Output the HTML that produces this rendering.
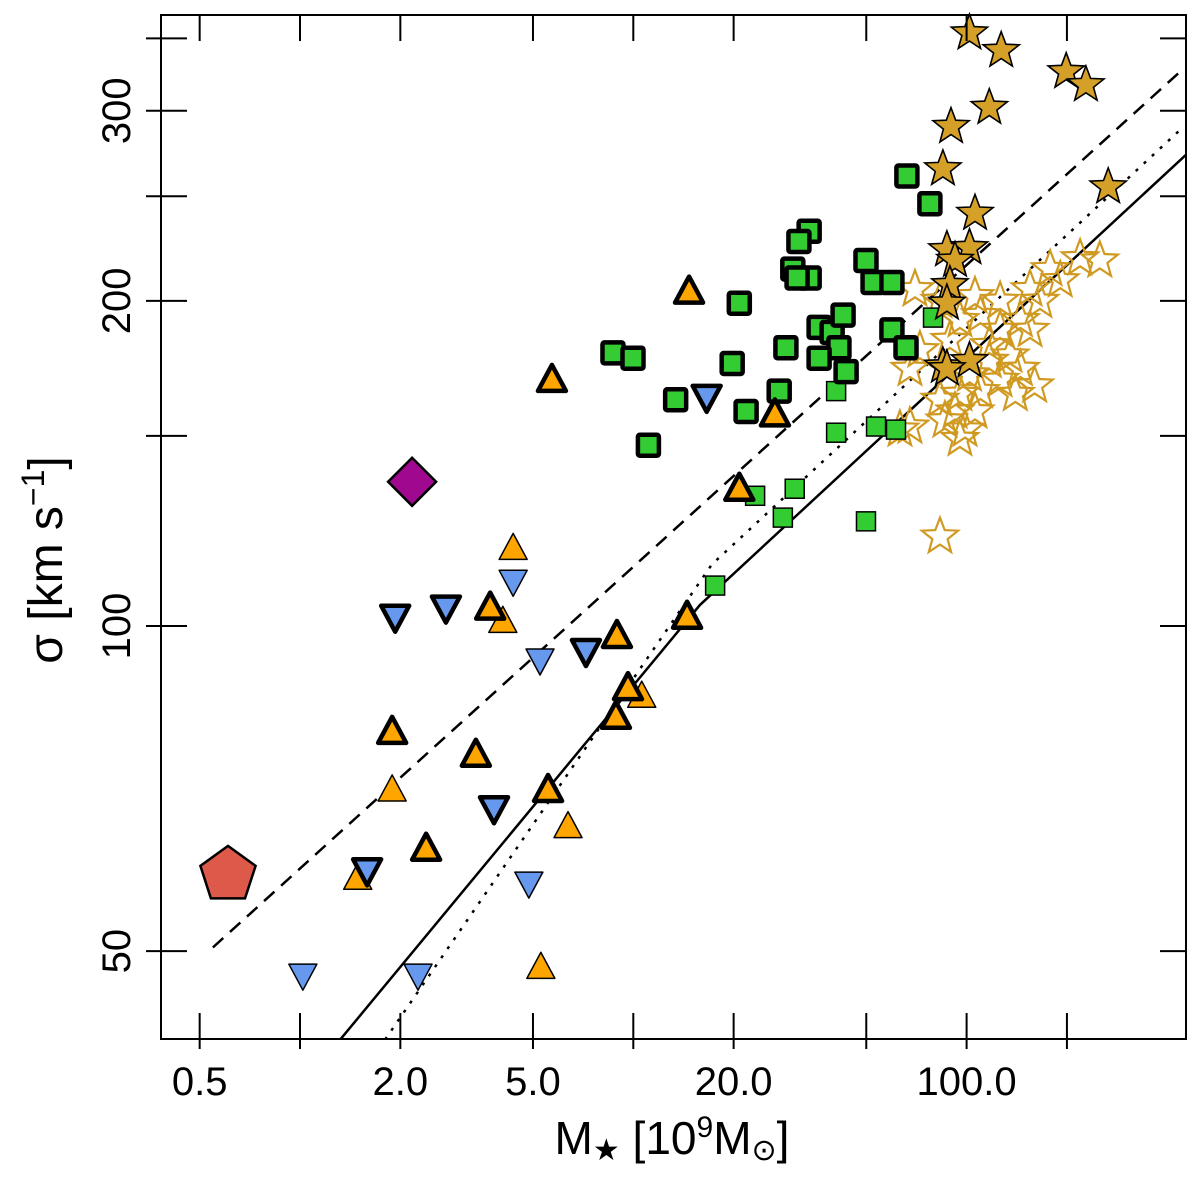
<!DOCTYPE html>
<html><head><meta charset="utf-8"><style>
body{margin:0;background:#fff;}
svg{display:block;font-family:"Liberation Sans","DejaVu Sans",sans-serif;}
</style></head><body>
<svg id="chart" width="1200" height="1186" viewBox="0 0 1200 1186" xmlns="http://www.w3.org/2000/svg">
<g id="lines"></g>
<g id="marks"></g>
<g id="axes"></g>
</svg>
<script>
// ---- data (stellar mass in 1e9 Msun, sigma in km/s) ----
const xTicks=[0.5,1,2,5,10,20,50,100,200];
const xTickLabels=["0.5","","2.0","5.0","","20.0","","100.0",""];
const yTicks=[50,100,150,200,250,300,350];
const yTickLabels=["50","100","","200","","300",""];

const greenBoldX=[66.2,77.6,33.7,31.4,30.1,33.7,31.0,49.9,52.4,59.7,20.8,8.69,9.98,19.8,28.7,36.1,39.5,42.6,41.4,36.1,43.5,59.7,65.8,13.4,21.8,27.4,11.1];
const greenBoldY=[261,246,232,227,214,210,210,218,208,208,199,179,177,175,181,189,187,194,181,177,172,188,181,162,158,165,147];
const greenThinX=[40.6,40.6,53.5,61.4,79.3,23.2,30.5,28.1,17.6,49.9];
const greenThinY=[165,151,153,152,193,132,134,126,109,125];
const starFillX=[102,127,199,228,117,89.8,84.9,266,106,87.3,102,92.3,89.1,87.3,84.9,102,87.3];
const starFillY=[354,341,326,317,302,290,265,255,241,223,224,218,207,199,174,176,173];
const starOpenX=[70.0,83.2,106,126,155,178,219,166,145,126,110,95.5,89.1,117,135,155,102,95.5,83.2,92.3,98.9,95.5,110,126,140,160,67.6,72.4,63.1,67.6,83.2,145,117,191,251,86.1,106];
const starOpenY=[205,200,202,200,205,214,219,200,192,188,194,192,184,182,178,188,171,164,162,158,152,149,165,169,164,167,173,180,152,153,121,173,176,209,218,155,158];
const triUpBoldX=[14.7,5.70,26.6,20.8,3.72,8.93,14.5,9.64,8.87,1.89,3.37,5.55,2.39];
const triUpBoldY=[204,169,157,134,104,97.9,102,87.6,82.4,79.8,76.0,70.5,62.2];
const triUpThinX=[4.36,4.06,10.6,1.89,6.37,1.49,5.28];
const triUpThinY=[118,101,86.1,70.5,65.2,58.4,48.3];
const triDownBoldX=[16.6,1.93,2.74,7.21,3.82,1.59];
const triDownBoldY=[163,102,104,94.8,67.8,59.4];
const triDownThinX=[4.36,5.25,4.86,1.02,2.26];
const triDownThinY=[110,93.0,57.8,47.5,47.5];
const diamondX=[2.17], diamondY=[136];
const pentagonX=[0.608], pentagonY=[59.2];
const dashedX=[0.548,437], dashedY=[50.4,326];
const solidX=[1.32,15.85,455], solidY=[41.4,104.6,273];
const dottedX=[1.80,17.2,437], dottedY=[41.4,114,288];

// ---- axis functions ----
const L=161,R=1186,T=15,B=1039;
function sx(v){return 300+333.3*Math.log10(v);}
function sy(v){return 626-1080*(Math.log10(v)-2);}
const NS="http://www.w3.org/2000/svg";
function mk(tag,attrs,parent){const e=document.createElementNS(NS,tag);for(const k in attrs)e.setAttribute(k,attrs[k]);parent.appendChild(e);return e;}
const lines=document.getElementById('lines'),marks=document.getElementById('marks'),axes=document.getElementById('axes');

const defs=mk('defs',{},document.getElementById('chart'));
const cp=mk('clipPath',{id:'clip'},defs);mk('rect',{x:L,y:T,width:R-L,height:B-T},cp);
lines.setAttribute('clip-path','url(#clip)');

function polyline(xs,ys,dash,name){
  const pts=xs.map((x,i)=>sx(x).toFixed(1)+','+sy(ys[i]).toFixed(1)).join(' ');
  const e=mk('polyline',{points:pts,fill:'none',stroke:'#000','stroke-width':2.5,'stroke-dasharray':dash},lines);
  
  
}
polyline(dashedX,dashedY,'14 9','dashed-fit-line');
polyline(solidX,solidY,'none','solid-fit-line');
polyline(dottedX,dottedY,'3 8','dotted-fit-line');

function starPts(cx,cy,r){let p=[];for(let i=0;i<10;i++){const a=-Math.PI/2+i*Math.PI/5;const rr=i%2?r*0.42:r;p.push((cx+rr*Math.cos(a)).toFixed(1)+','+(cy+rr*Math.sin(a)).toFixed(1));}return p.join(' ');}
function regPts(cx,cy,r,n,rot){let p=[];for(let i=0;i<n;i++){const a=rot+i*2*Math.PI/n;p.push((cx+r*Math.cos(a)).toFixed(1)+','+(cy+r*Math.sin(a)).toFixed(1));}return p.join(' ');}

function drawStars(xs,ys,fill,stroke,sw,name){xs.forEach((x,i)=>{
  const e=mk('polygon',{points:starPts(sx(x),sy(ys[i]),19),fill:fill,stroke:stroke,'stroke-width':sw,'stroke-linejoin':'miter'},marks);
  
  
});}
function drawSquares(xs,ys,s,sw,name){xs.forEach((x,i)=>{
  const e=mk('rect',{x:sx(x)-s/2,y:sy(ys[i])-s/2,width:s,height:s,fill:'#33cc33',stroke:'#000','stroke-width':sw,rx:sw>2?2:0},marks);
  
  
});}
function drawTri(xs,ys,up,fill,sw,name){xs.forEach((x,i)=>{
  const cx=sx(x),cy=sy(ys[i]),h=13;
  const pts=up?`${cx},${cy-h-2} ${cx+14},${cy+h-2} ${cx-14},${cy+h-2}`:`${cx},${cy+h+2} ${cx+14},${cy-h+2} ${cx-14},${cy-h+2}`;
  const e=mk('polygon',{points:pts,fill:fill,stroke:'#000','stroke-width':sw,'stroke-linejoin':'round'},marks);
  
  
});}

drawStars(starOpenX,starOpenY,'none','#d09a22',2.2,'open-star-point');
drawSquares(greenThinX,greenThinY,19,1.5,'thin-green-square');
drawSquares(greenBoldX,greenBoldY,21,4.5,'bold-green-square');
drawTri(triUpThinX,triUpThinY,true,'#ffa500',1.5,'thin-orange-triangle');
drawTri(triDownThinX,triDownThinY,false,'#6699ee',1.5,'thin-blue-triangle');
drawTri(triUpBoldX,triUpBoldY,true,'#ffa500',4.5,'bold-orange-triangle');
drawTri(triDownBoldX,triDownBoldY,false,'#6699ee',4.5,'bold-blue-triangle');
drawStars(starFillX,starFillY,'#d4a028','#000',1.6,'filled-star-point');
diamondX.forEach((x,i)=>{
  const e=mk('polygon',{points:regPts(sx(x),sy(diamondY[i]),24,4,0),fill:'#a0088f',stroke:'#000','stroke-width':2.5},marks);
  
  
});
pentagonX.forEach((x,i)=>{
  const e=mk('polygon',{points:regPts(sx(x),sy(pentagonY[i])+3,29,5,-Math.PI/2),fill:'#dd5a4a',stroke:'#000','stroke-width':2.5},marks);
  
  
});

const fr=mk('rect',{x:L,y:T,width:R-L,height:B-T,fill:'none',stroke:'#000','stroke-width':2},axes);


xTicks.forEach((v,i)=>{
  const x=sx(v);
  const t1=mk('line',{x1:x,y1:B+10,x2:x,y2:B-26,stroke:'#000','stroke-width':2},axes);
  
  
  const t2=mk('line',{x1:x,y1:T,x2:x,y2:T+26,stroke:'#000','stroke-width':2},axes);
  
  
  if(xTickLabels[i]){
    const t=mk('text',{x:x,y:1095,'font-size':40,'text-anchor':'middle',fill:'#000'},axes);
    t.textContent=xTickLabels[i];
    
    
  }
});
yTicks.forEach((v,i)=>{
  const y=sy(v);
  const t1=mk('line',{x1:L-15,y1:y,x2:L+26,y2:y,stroke:'#000','stroke-width':2},axes);
  
  
  const t2=mk('line',{x1:R-26,y1:y,x2:R,y2:y,stroke:'#000','stroke-width':2},axes);
  
  
  if(yTickLabels[i]){
    const t=mk('text',{x:0,y:0,'font-size':40,'text-anchor':'middle',fill:'#000',transform:`translate(130,${y}) rotate(-90)`},axes);
    t.textContent=yTickLabels[i];
    
    
  }
});
</script>
<svg style="position:absolute;left:0;top:0" width="1200" height="1186">
<text x="672" y="1154" font-size="46" text-anchor="middle" font-family="Liberation Sans, DejaVu Sans, sans-serif">M<tspan font-size="30" dy="6">★</tspan><tspan dy="-6"> [10</tspan><tspan font-size="30" dy="-17">9</tspan><tspan dy="17">M</tspan><tspan font-size="30" dy="6">⊙</tspan><tspan dy="-6">]</tspan></text>
<text transform="translate(62,560) rotate(-90)" font-size="48" text-anchor="middle" font-family="Liberation Sans, DejaVu Sans, sans-serif">σ [km s<tspan font-size="32" dy="-18">−1</tspan><tspan dy="18">]</tspan></text>
</svg>
</body></html>
